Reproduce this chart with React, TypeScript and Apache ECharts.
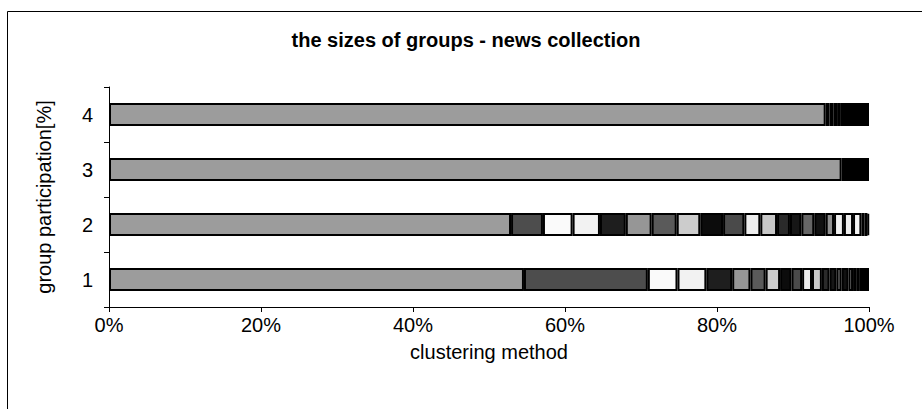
import React, { useEffect, useRef } from "react";
import * as echarts from "echarts";

const categories = ["1", "2", "3", "4"];
const xTicks = [0, 20, 40, 60, 80, 100];

// group sizes (percent) per clustering method, one entry per group (series)
const bar1 = [54.6, 16.3, 3.9, 3.8, 3.4, 2.4, 2.0, 1.9, 1.5, 1.4, 1.3, 1.3, 1.0, 0.9, 0.7, 0.9, 0.6, 0.5, 0.3, null, null, null, 1.3];
const bar2 = [52.9, 4.2, 3.9, 3.6, 3.4, 3.4, 3.3, 3.1, 3.0, 2.8, 2.1, 2.2, 1.7, 1.5, 1.7, 1.5, 1.1, 1.3, 1.2, 1.1, 0.4, 0.4, 0.2];
const bar3 = [96.4, null, null, null, null, null, null, null, null, null, null, null, null, null, null, null, null, null, null, null, null, null, 3.6];
const bar4 = [94.3, 0.5, 0.5, 0.5, 0.4, null, null, null, null, null, null, null, null, null, null, null, null, null, null, null, null, null, 3.8];

const palette = [
  "#9c9c9c", "#4d4d4d", "#fafafa", "#f2f2f2", "#1e1e1e", "#969696", "#5a5a5a", "#cccccc",
  "#0c0c0c", "#4a4a4a", "#eeeeee", "#c8c8c8", "#2a2a2a", "#161616", "#666666", "#111111",
  "#8f8f8f", "#f0f0f0", "#eeeeee", "#f5f5f5", "#dddddd", "#eeeeee", "#000000",
];

const FONT = "'Liberation Sans', Arial, sans-serif";

export default function App() {
  const ref = useRef<HTMLDivElement>(null);
  useEffect(() => {
    if (!ref.current) return;
    const chart = echarts.init(ref.current, null, { renderer: "svg" });
    const bars = [bar1, bar2, bar3, bar4];
    const series = palette.map((color, i) => ({
      type: "bar",
      name: "g" + (i + 1),
      stack: "total",
      barWidth: 23,
      data: bars.map((b) => b[i]),
      itemStyle: { color, borderColor: "#000", borderWidth: 2 },
      emphasis: { disabled: true },
    }));
    chart.setOption({
      animation: false,
      textStyle: { fontFamily: FONT, color: "#000" },
      graphic: [
        {
          type: "rect",
          shape: { x: 7.5, y: 11.5, width: 1000, height: 1000 },
          style: { fill: "none", stroke: "#000", lineWidth: 1 },
          silent: true,
        },
      ],
      title: {
        text: "the sizes of groups - news collection",
        left: 461,
        textAlign: "center",
        top: 25,
        textStyle: { fontFamily: FONT, fontWeight: "bold", fontSize: 20, color: "#000" },
      },
      grid: { left: 109, right: 53, top: 87, bottom: 102, containLabel: false },
      xAxis: {
        type: "value",
        min: xTicks[0],
        max: xTicks[xTicks.length - 1],
        interval: 20,
        axisLine: { show: true, lineStyle: { color: "#000", width: 1 } },
        axisTick: { show: true, length: 5, lineStyle: { color: "#000" } },
        splitLine: { show: false },
        axisLabel: { formatter: "{value}%", fontSize: 20, color: "#000", fontFamily: FONT, margin: 8 },
        name: "clustering method",
        nameLocation: "middle",
        nameGap: 35,
        nameTextStyle: { fontSize: 20, color: "#000", fontFamily: FONT },
      },
      yAxis: {
        type: "category",
        data: categories,
        axisLine: { show: true, lineStyle: { color: "#000", width: 1 } },
        axisTick: { show: true, length: 5, lineStyle: { color: "#000" } },
        axisLabel: { fontSize: 20, color: "#000", fontFamily: FONT, margin: 16 },
        name: "group participation[%]",
        nameLocation: "middle",
        nameGap: 55,
        nameRotate: 90,
        nameTextStyle: { fontSize: 20, color: "#000", fontFamily: FONT },
      },
      series,
    });
    return () => chart.dispose();
  }, []);
  return (
    <div
      ref={ref}
      style={{ position: "fixed", left: 0, top: 0, width: 922, height: 409, background: "#fff" }}
    />
  );
}
